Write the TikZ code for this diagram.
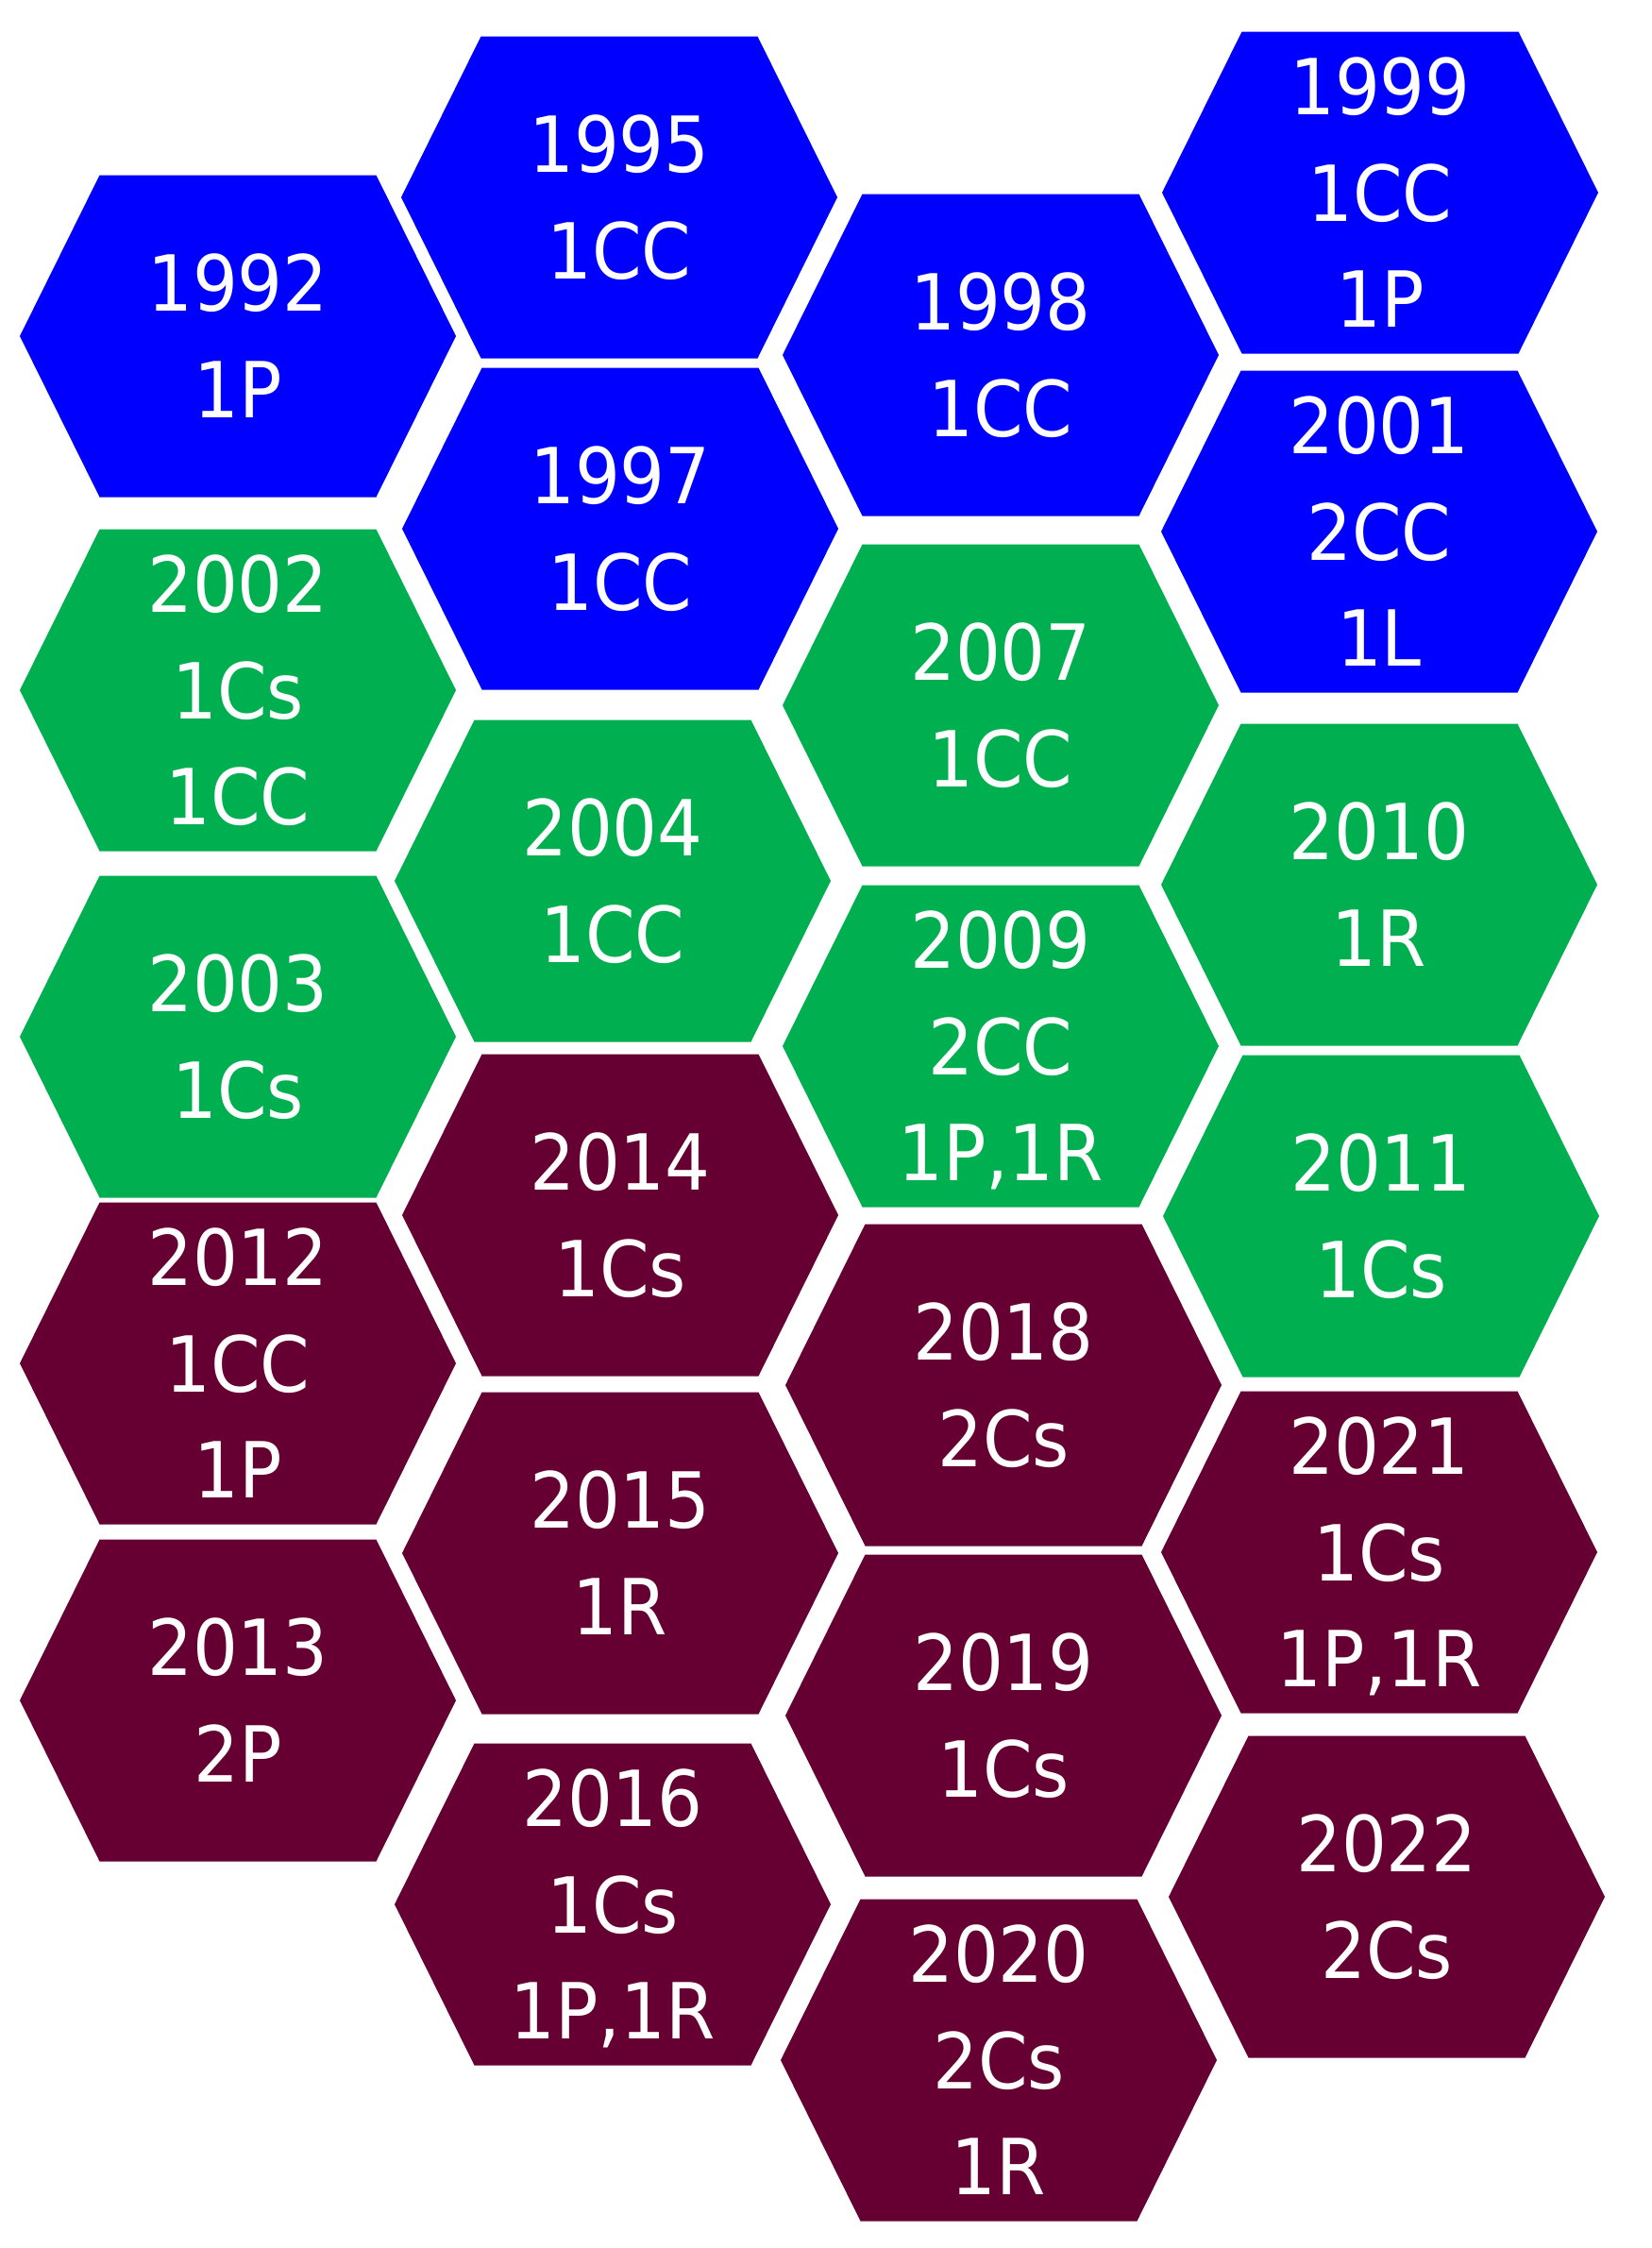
\documentclass[tikz,border=0pt]{standalone}
\usepackage{fontspec}
\setmainfont{DejaVu Sans}[FakeStretch=0.92]
\definecolor{hblue}{HTML}{0000FF}
\definecolor{hgreen}{HTML}{00B050}
\definecolor{hmaroon}{HTML}{660033}
\tikzset{hexlabel/.style={text=white, font=\fontsize{23.3pt}{32pt}\selectfont, inner sep=0pt, anchor=base}}
\newcommand\hexcell[6]{%
  \begin{scope}[shift={(#2/100,-#3/100)}]
    \fill[#4] (-2.31,0) -- (-1.465,1.705) -- (1.465,1.705) -- (2.31,0) -- (1.465,-1.705) -- (-1.465,-1.705) -- cycle;
    \coordinate (#1) at (0,0);
    \foreach \t [count=\i] in {#6} {
      \pgfmathsetmacro\off{-0.30+((#5-1)/2-(\i-1))*1.126}
      \node[hexlabel] (#1-\i) at (0,\off) {\t};
    }
  \end{scope}}
\begin{document}
\begin{tikzpicture}
\useasboundingbox (0,0) rectangle (17.5,-23.81);
% column 1
\hexcell{h1992}{252}{356}{hblue}{2}{1992,1P}
\hexcell{h2002}{252}{731}{hgreen}{3}{2002,1Cs,1CC}
\hexcell{h2003}{252}{1098}{hgreen}{2}{2003,1Cs}
\hexcell{h2012}{252}{1444}{hmaroon}{3}{2012,1CC,1P}
\hexcell{h2013}{252}{1801}{hmaroon}{2}{2013,2P}
% column 2
\hexcell{h1995}{656}{209}{hblue}{2}{1995,1CC}
\hexcell{h1997}{657}{560}{hblue}{2}{1997,1CC}
\hexcell{h2004}{649}{933}{hgreen}{2}{2004,1CC}
\hexcell{h2014}{657}{1287}{hmaroon}{2}{2014,1Cs}
\hexcell{h2015}{657}{1645}{hmaroon}{2}{2015,1R}
\hexcell{h2016}{649}{2017}{hmaroon}{3}{2016,1Cs,{1P,1R}}
% column 3
\hexcell{h1998}{1060}{376}{hblue}{2}{1998,1CC}
\hexcell{h2007}{1060}{747}{hgreen}{2}{2007,1CC}
\hexcell{h2009}{1060}{1108}{hgreen}{3}{2009,2CC,{1P,1R}}
\hexcell{h2018}{1063}{1467}{hmaroon}{2}{2018,2Cs}
\hexcell{h2019}{1063}{1817}{hmaroon}{2}{2019,1Cs}
\hexcell{h2020}{1058}{2182}{hmaroon}{3}{2020,2Cs,1R}
% column 4
\hexcell{h1999}{1462}{204}{hblue}{3}{1999,1CC,1P}
\hexcell{h2001}{1461}{563}{hblue}{3}{2001,2CC,1L}
\hexcell{h2010}{1461}{937}{hgreen}{2}{2010,1R}
\hexcell{h2011}{1463}{1288}{hgreen}{2}{2011,1Cs}
\hexcell{h2021}{1461}{1644}{hmaroon}{3}{2021,1Cs,{1P,1R}}
\hexcell{h2022}{1469}{2009}{hmaroon}{2}{2022,2Cs}
\end{tikzpicture}
\end{document}
